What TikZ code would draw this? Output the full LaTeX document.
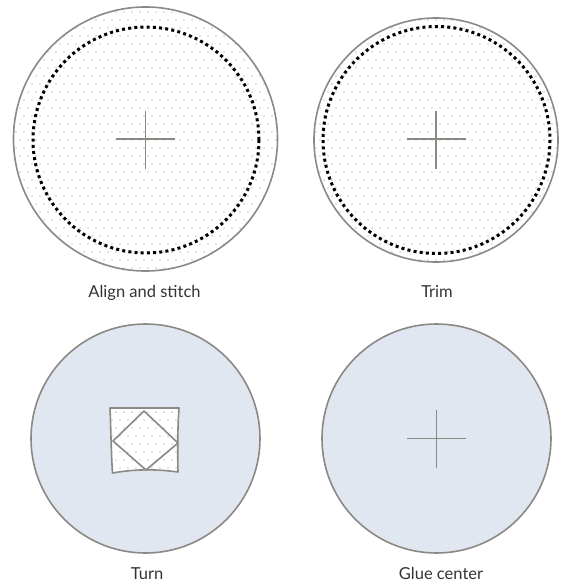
\documentclass[tikz,border=0pt]{standalone}
\usepackage{fontspec}
\setmainfont{Lato}
\definecolor{rim}{HTML}{8C8884}
\definecolor{paper}{HTML}{E1E7F0}
\definecolor{dotc}{HTML}{E4E4E4}
\tikzset{
  disc/.style={circle, draw=rim, line width=1.6pt, inner sep=0pt},
  stitch/.style={draw=black, line width=3pt, dash pattern=on 3pt off 3.2pt},
  crossline/.style={draw=rim, line width=1.5pt},
  caption/.style={font=\fontsize{16.5}{18}\selectfont, text=black!80, inner sep=0pt, anchor=base},
  foldline/.style={draw=rim, line width=1.6pt, line join=round},
}
% x0 y0 (multiples of 8) nx ny
\newcommand{\dotfield}[4]{%
  \foreach \jj in {0,...,#4}{
    \foreach \ii in {0,...,#3}{
      \pgfmathsetmacro{\odd}{mod(\jj,2)}
      \fill[dotc] ({#1+8*\ii+4*\odd-1},{#2+8*\jj-1}) rectangle ++(2.2,2.2);
    }
  }
}
\begin{document}
\begin{tikzpicture}[x=1pt,y=-1pt]
\useasboundingbox (0,0) rectangle (560,586);
% top-left
\begin{scope}
  \clip (145.5,139) circle (132);
  \dotfield{8}{4}{35}{34}
\end{scope}
\node[disc, minimum size=264pt] (c1) at (145.5,139) {};
\draw[stitch] (146,140) circle (113);
\draw[crossline] (116,139) -- (175,139);
\draw[crossline] (145.5,111) -- (145.5,169);
\node[caption] (l1) at (144.5,297.5) {Align and stitch};
% top-right
\begin{scope}
  \clip (436,140) circle (122);
  \dotfield{312}{12}{32}{33}
\end{scope}
\node[disc, minimum size=244pt] (c2) at (436,140) {};
\draw[stitch] (436.5,140) circle (113.5);
\draw[crossline] (406.5,139) -- (465.5,139);
\draw[crossline] (436,111) -- (436,169);
\node[caption] (l2) at (437,297.5) {Trim};
% bottom-left
\node[disc, fill=paper, minimum size=229pt] (c3) at (145.5,438.5) {};
\begin{scope}
  \clip (110,408) -- (179,408) .. controls (177.5,430) and (177.5,450) .. (178,472)
        .. controls (156,469) and (135,469) .. (112.5,473)
        .. controls (111,450) and (111,430) .. (110,408) -- cycle;
  \fill[white] (100,400) rectangle (190,480);
  \dotfield{104}{404}{11}{10}
\end{scope}
\draw[foldline] (110,408) -- (179,408) .. controls (177.5,430) and (177.5,450) .. (178,472)
        .. controls (156,469) and (135,469) .. (112.5,473)
        .. controls (111,450) and (111,430) .. (110,408) -- cycle;
\draw[foldline] (144,411) -- (178,443) -- (146,470) -- (113,441) -- cycle;
\node[caption] (l3) at (147,579) {Turn};
% bottom-right
\node[disc, fill=paper, minimum size=229pt] (c4) at (436.5,438.5) {};
\draw[crossline] (407,438.5) -- (466,438.5);
\draw[crossline] (436.5,409.5) -- (436.5,467.5);
\node[caption] (l4) at (441,579) {Glue center};
\end{tikzpicture}
\end{document}
